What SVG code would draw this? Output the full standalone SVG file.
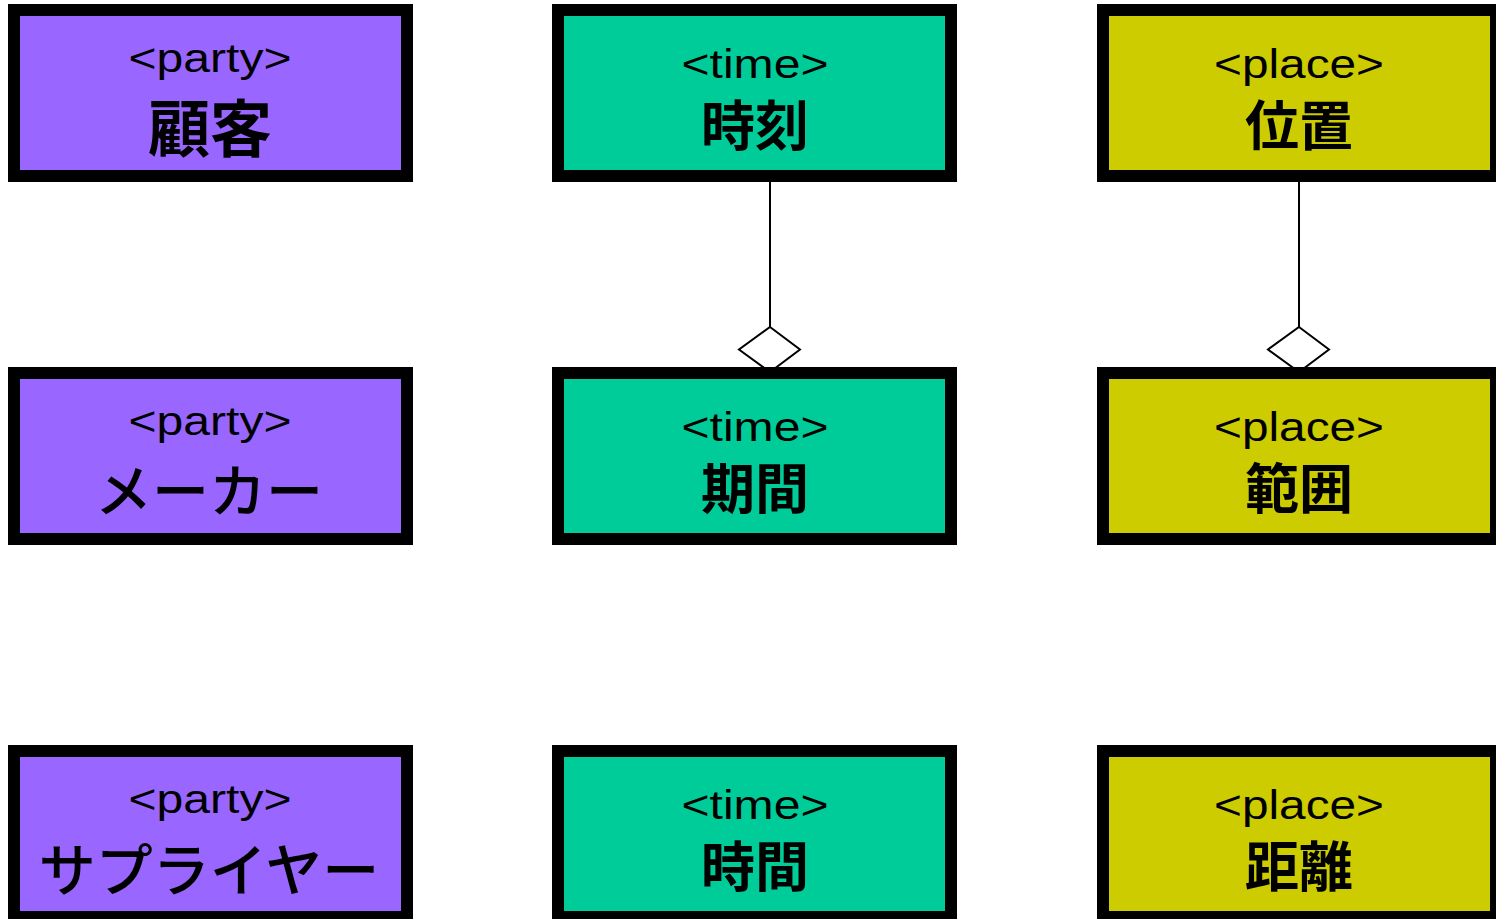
<svg xmlns="http://www.w3.org/2000/svg" width="1496" height="919" viewBox="0 0 1496 919">
<style>
.box{stroke:#000;stroke-width:12}
.party{fill:#9966FF}
.time{fill:#00CC99}
.place{fill:#CCCC00}
.st{font-family:"Liberation Sans",Arial,sans-serif;font-size:40px;fill:#000;text-anchor:middle}
.nm{font-family:"Noto Sans CJK JP","Noto Sans CJK SC",sans-serif;font-weight:bold;font-size:54px;fill:#000;text-anchor:middle}
.nmp{font-size:62px}
.kana{font-size:57px;font-weight:500}
.conn{stroke:#000;stroke-width:2;fill:none}
.dia{stroke:#000;stroke-width:2;fill:#fff}
</style>
<rect width="1496" height="919" fill="#fff"/>
<g id="connectors">
<line class="conn" x1="770" y1="182" x2="770" y2="327"/>
<polygon class="dia" points="770,327 800,349.5 770,372 739,349.5"/>
<line class="conn" x1="1299" y1="182" x2="1299" y2="327"/>
<polygon class="dia" points="1299,327 1329,349.5 1299,372 1268,349.5"/>
</g>
<g id="customer">
<rect class="box party" x="14" y="10" width="393" height="166"/>
<text class="st" x="210" y="72" textLength="163" lengthAdjust="spacingAndGlyphs">&lt;party&gt;</text>
<text class="nm nmp" x="210" y="152">顧客</text>
</g>
<g id="maker">
<rect class="box party" x="14" y="373" width="393" height="166"/>
<text class="st" x="210" y="435" textLength="163" lengthAdjust="spacingAndGlyphs">&lt;party&gt;</text>
<text class="nm kana" x="209" y="512">メーカー</text>
</g>
<g id="supplier">
<rect class="box party" x="14" y="751" width="393" height="166"/>
<text class="st" x="210" y="813" textLength="163" lengthAdjust="spacingAndGlyphs">&lt;party&gt;</text>
<text class="nm kana" x="209" y="891">サプライヤー</text>
</g>
<g id="jikoku">
<rect class="box time" x="558" y="10" width="393" height="166"/>
<text class="st" x="755" y="78" textLength="147" lengthAdjust="spacingAndGlyphs">&lt;time&gt;</text>
<text class="nm" x="755" y="146">時刻</text>
</g>
<g id="kikan">
<rect class="box time" x="558" y="373" width="393" height="166"/>
<text class="st" x="755" y="441" textLength="147" lengthAdjust="spacingAndGlyphs">&lt;time&gt;</text>
<text class="nm" x="755" y="509">期間</text>
</g>
<g id="jikan">
<rect class="box time" x="558" y="751" width="393" height="166"/>
<text class="st" x="755" y="819" textLength="147" lengthAdjust="spacingAndGlyphs">&lt;time&gt;</text>
<text class="nm" x="755" y="887">時間</text>
</g>
<g id="ichi">
<rect class="box place" x="1103" y="10" width="393" height="166"/>
<text class="st" x="1299" y="78" textLength="170" lengthAdjust="spacingAndGlyphs">&lt;place&gt;</text>
<text class="nm" x="1299" y="146">位置</text>
</g>
<g id="hani">
<rect class="box place" x="1103" y="373" width="393" height="166"/>
<text class="st" x="1299" y="441" textLength="170" lengthAdjust="spacingAndGlyphs">&lt;place&gt;</text>
<text class="nm" x="1299" y="509">範囲</text>
</g>
<g id="kyori">
<rect class="box place" x="1103" y="751" width="393" height="166"/>
<text class="st" x="1299" y="819" textLength="170" lengthAdjust="spacingAndGlyphs">&lt;place&gt;</text>
<text class="nm" x="1299" y="887">距離</text>
</g>
</svg>
